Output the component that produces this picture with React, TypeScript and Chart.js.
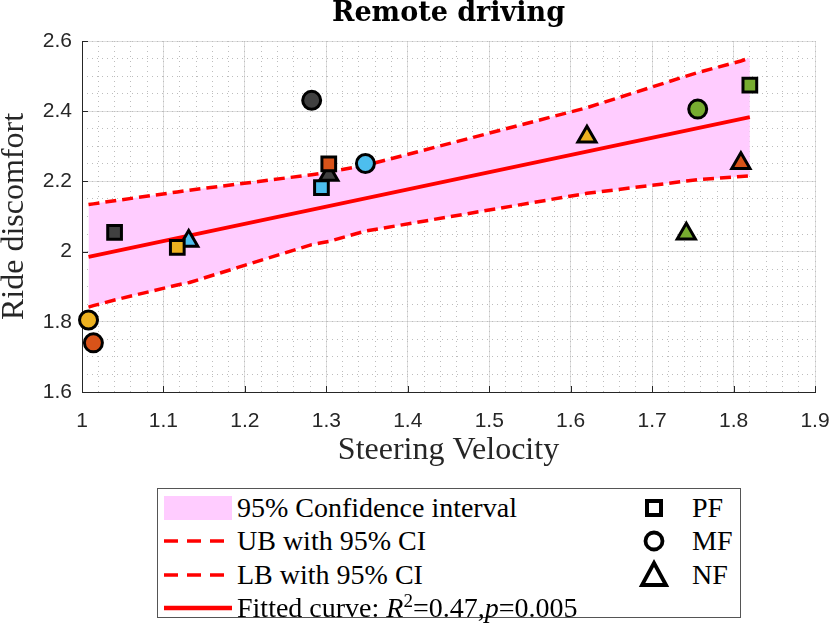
import React, { useEffect, useRef } from "react";
import Chart from "chart.js/auto";

// one fill colour per subject, same order in every group
const subjectColors = ["#404040", "#EDB120", "#D95319", "#4DBEEE", "#77AC30"];

// steering velocity (x) vs ride discomfort (y) per group
const pfVelocity = [1.04, 1.117, 1.303, 1.294, 1.82];
const pfDiscomfort = [2.055, 2.012, 2.25, 2.182, 2.474];
const mfVelocity = [1.282, 1.008, 1.014, 1.348, 1.756];
const mfDiscomfort = [2.431, 1.805, 1.74, 2.251, 2.406];
const nfVelocity = [1.303, 1.62, 1.809, 1.131, 1.742];
const nfDiscomfort = [2.218, 2.327, 2.252, 2.03, 2.051];

// fitted line and 95% bounds
const fitVelocity = [1.008, 1.82];
const fitDiscomfort = [1.985, 2.383];
const ciVelocity = [1.008, 1.014, 1.04, 1.117, 1.132, 1.282, 1.294, 1.303, 1.347, 1.62, 1.742, 1.756, 1.809, 1.82];
const ciUpper = [2.134, 2.136, 2.145, 2.17, 2.175, 2.219, 2.223, 2.227, 2.245, 2.41, 2.5, 2.51, 2.543, 2.552];
const ciLower = [1.842, 1.846, 1.862, 1.905, 1.912, 2.02, 2.025, 2.029, 2.058, 2.166, 2.201, 2.205, 2.214, 2.216];

const xTickValues = [1, 1.1, 1.2, 1.3, 1.4, 1.5, 1.6, 1.7, 1.8, 1.9];
const xTickLabels = ["1", "1.1", "1.2", "1.3", "1.4", "1.5", "1.6", "1.7", "1.8", "1.9"];
const yTickValues = [1.6, 1.8, 2, 2.2, 2.4, 2.6];
const yTickLabels = ["1.6", "1.8", "2", "2.2", "2.4", "2.6"];

const pts = (xs: number[], ys: number[]) => xs.map((x, i) => ({ x, y: ys[i] }));

const SERIF = "'Liberation Serif', 'Times New Roman', serif";
const SANS = "'Liberation Sans', Arial, sans-serif";

// matlab style ticks pointing into the plot
const innerTicks = {
  id: "innerTicks",
  beforeDatasetsDraw(chart: any) {
    const { ctx, chartArea, scales } = chart;
    ctx.save();
    ctx.strokeStyle = "#262626";
    ctx.lineWidth = 1;
    ctx.beginPath();
    scales.x.ticks.forEach((t: any) => {
      const px = Math.round(scales.x.getPixelForValue(t.value)) + 0.5;
      ctx.moveTo(px, chartArea.bottom);
      ctx.lineTo(px, chartArea.bottom - 6);
    });
    scales.y.ticks.forEach((t: any) => {
      const py = Math.round(scales.y.getPixelForValue(t.value)) + 0.5;
      ctx.moveTo(chartArea.left, py);
      ctx.lineTo(chartArea.left + 6, py);
    });
    ctx.stroke();
    ctx.restore();
  },
};

const Legend: React.FC = () => {
  const row = (i: number): React.CSSProperties => ({
    position: "absolute",
    top: 2 + i * 33.3,
    height: 33,
    lineHeight: "33px",
    whiteSpace: "nowrap",
  });
  return (
    <div
      style={{
        position: "absolute",
        left: 157,
        top: 488,
        width: 584,
        height: 130,
        boxSizing: "border-box",
        border: "1px solid #555",
        background: "#fff",
        fontFamily: SERIF,
        fontSize: 28,
        color: "#000",
      }}
    >
      <div style={{ ...row(0), left: 5 }}>
        <svg width={70} height={33} style={{ verticalAlign: "top" }}>
          <rect x={1} y={5} width={68} height={24} fill="#FFCCFF" />
        </svg>
      </div>
      <div style={{ ...row(0), left: 79 }}>95% Confidence interval</div>
      <div style={{ ...row(1), left: 5 }}>
        <svg width={70} height={33} style={{ verticalAlign: "top" }}>
          <line x1={1} y1={17} x2={69} y2={17} stroke="#FF0000" strokeWidth={3.5} strokeDasharray="14 9" />
        </svg>
      </div>
      <div style={{ ...row(1), left: 79 }}>UB with 95% CI</div>
      <div style={{ ...row(2), left: 5 }}>
        <svg width={70} height={33} style={{ verticalAlign: "top" }}>
          <line x1={1} y1={17} x2={69} y2={17} stroke="#FF0000" strokeWidth={3.5} strokeDasharray="14 9" />
        </svg>
      </div>
      <div style={{ ...row(2), left: 79 }}>LB with 95% CI</div>
      <div style={{ ...row(3), left: 5 }}>
        <svg width={70} height={33} style={{ verticalAlign: "top" }}>
          <line x1={1} y1={17} x2={69} y2={17} stroke="#FF0000" strokeWidth={4.5} />
        </svg>
      </div>
      <div style={{ ...row(3), left: 79 }}>
        Fitted curve: <i>R</i>
        <sup style={{ fontSize: 19, lineHeight: 0 }}>2</sup>=0.47,<i>p</i>=0.005
      </div>

      <div style={{ ...row(0), left: 480 }}>
        <svg width={32} height={33} style={{ verticalAlign: "top" }}>
          <rect x={9} y={10} width={14} height={14} fill="#fff" stroke="#000" strokeWidth={4} />
        </svg>
      </div>
      <div style={{ ...row(0), left: 534 }}>PF</div>
      <div style={{ ...row(1), left: 480 }}>
        <svg width={32} height={33} style={{ verticalAlign: "top" }}>
          <circle cx={16} cy={17} r={8.5} fill="#fff" stroke="#000" strokeWidth={3.8} />
        </svg>
      </div>
      <div style={{ ...row(1), left: 534 }}>MF</div>
      <div style={{ ...row(2), left: 480 }}>
        <svg width={32} height={33} style={{ verticalAlign: "top" }}>
          <polygon points="16,5 28,27 4,27" fill="#fff" stroke="#000" strokeWidth={3.8} strokeLinejoin="miter" />
        </svg>
      </div>
      <div style={{ ...row(2), left: 534 }}>NF</div>
    </div>
  );
};

const App: React.FC = () => {
  const canvasRef = useRef<HTMLCanvasElement | null>(null);
  const chartRef = useRef<Chart | null>(null);

  useEffect(() => {
    if (!canvasRef.current) return;
    const ctx = canvasRef.current.getContext("2d");
    if (!ctx) return;
    if (chartRef.current) chartRef.current.destroy();

    const markerBase = {
      type: "scatter" as const,
      pointBackgroundColor: subjectColors,
      pointBorderColor: "#000",
      pointBorderWidth: 3,
      showLine: false,
      clip: false as any,
      order: 0,
    };

    chartRef.current = new Chart(ctx, {
      type: "scatter",
      data: {
        datasets: [
          { ...markerBase, label: "PF", data: pts(pfVelocity, pfDiscomfort), pointStyle: "rect", pointRadius: 9.7 },
          { ...markerBase, label: "MF", data: pts(mfVelocity, mfDiscomfort), pointStyle: "circle", pointRadius: 9 },
          { ...markerBase, label: "NF", data: pts(nfVelocity, nfDiscomfort), pointStyle: "triangle", pointRadius: 10.5 },
          {
            type: "line",
            label: "Fitted curve",
            data: pts(fitVelocity, fitDiscomfort),
            borderColor: "#FF0000",
            borderWidth: 4,
            pointRadius: 0,
            fill: false,
            order: 1,
          },
          {
            type: "line",
            label: "LB with 95% CI",
            data: pts(ciVelocity, ciLower),
            borderColor: "#FF0000",
            borderWidth: 3.5,
            borderDash: [11, 6],
            pointRadius: 0,
            fill: false,
            order: 2,
          },
          {
            type: "line",
            label: "UB with 95% CI",
            data: pts(ciVelocity, ciUpper),
            borderColor: "#FF0000",
            backgroundColor: "#FFCCFF",
            borderWidth: 3.5,
            borderDash: [11, 6],
            pointRadius: 0,
            fill: "-1",
            order: 3,
          },
        ],
      },
      options: {
        responsive: false,
        animation: false,
        events: [],
        layout: { padding: { left: 0, right: 15, top: 0, bottom: 155 } },
        plugins: {
          legend: { display: false },
          tooltip: { enabled: false },
          title: {
            display: true,
            fullSize: false,
            text: "Remote driving",
            color: "#000",
            font: { family: "'DejaVu Serif', serif", size: 27, weight: "bold", lineHeight: 1 },
            padding: { top: 0, bottom: 14 },
          },
        },
        scales: {
          x: {
            type: "linear",
            position: "bottom",
            min: 1,
            max: 1.9,
            afterBuildTicks: (s: any) => {
              s.ticks = xTickValues.map((v) => ({ value: v }));
            },
            afterFit: (s: any) => {
              s.height = 81;
              s.paddingLeft = 0;
              s.paddingRight = 0;
            },
            ticks: {
              padding: 17,
              color: "#262626",
              font: { family: SANS, size: 21 },
              callback: (_v: any, i: number) => xTickLabels[i],
            },
            grid: { color: "#dedede", lineWidth: 1, drawTicks: false },
            border: { display: true, color: "#262626", width: 1 },
            title: {
              display: true,
              text: "Steering Velocity",
              color: "#262626",
              font: { family: SERIF, size: 32, lineHeight: 1.2 },
              padding: { top: 0, bottom: 3 },
            },
          },
          y: {
            type: "linear",
            position: "left",
            min: 1.6,
            max: 2.6,
            afterBuildTicks: (s: any) => {
              s.ticks = yTickValues.map((v) => ({ value: v }));
            },
            afterFit: (s: any) => {
              s.width = 82;
            },
            ticks: {
              padding: 10,
              color: "#262626",
              font: { family: SANS, size: 21 },
              callback: (_v: any, i: number) => yTickLabels[i],
            },
            grid: { color: "#dedede", lineWidth: 1, drawTicks: false },
            border: { display: true, color: "#262626", width: 1 },
            title: {
              display: true,
              text: "Ride discomfort",
              color: "#262626",
              font: { family: SERIF, size: 32, lineHeight: 0.9 },
              padding: 0,
            },
          },
          // minor grids (dotted)
          xMinor: {
            type: "linear",
            position: "top",
            min: 1,
            max: 1.9,
            ticks: { display: false, stepSize: 0.02 },
            afterFit: (s: any) => {
              s.height = 0;
            },
            grid: { color: "#bdbdbd", lineWidth: 1, drawTicks: false },
            border: { display: false, dash: [1, 4] },
          },
          yMinor: {
            type: "linear",
            position: "right",
            min: 1.6,
            max: 2.6,
            ticks: { display: false, stepSize: 0.05 },
            afterFit: (s: any) => {
              s.width = 0;
            },
            grid: { color: "#bdbdbd", lineWidth: 1, drawTicks: false },
            border: { display: false, dash: [1, 4] },
          },
        },
      } as any,
      plugins: [innerTicks],
    });

    return () => {
      if (chartRef.current) {
        chartRef.current.destroy();
        chartRef.current = null;
      }
    };
  }, []);

  return (
    <div style={{ position: "absolute", left: 0, top: 0, width: 830, height: 628, background: "#fff" }}>
      <canvas ref={canvasRef} width={830} height={628} style={{ position: "absolute", left: 0, top: 0 }} />
      <Legend />
    </div>
  );
};

export default App;
